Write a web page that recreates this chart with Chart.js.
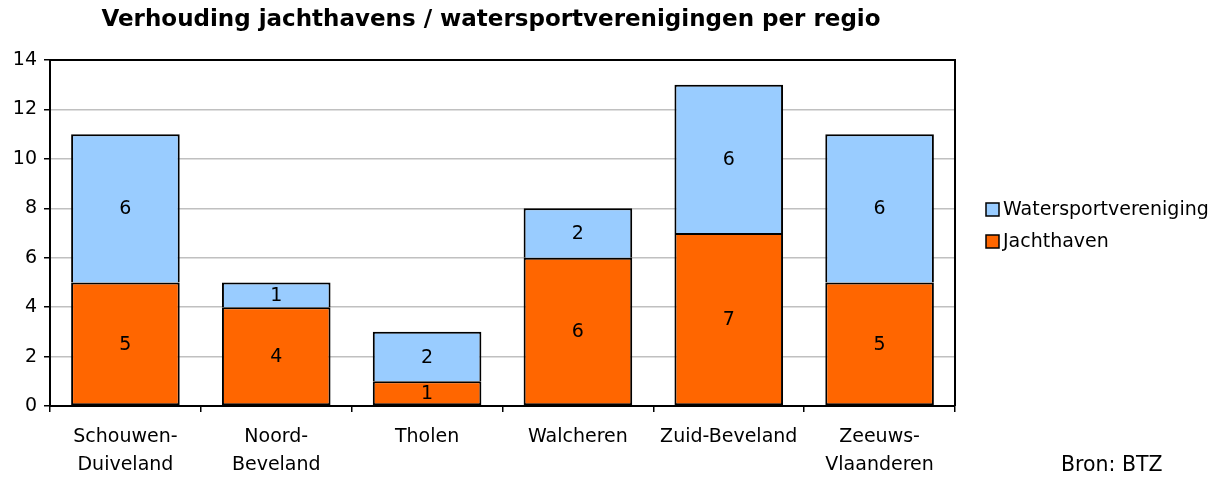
<!DOCTYPE html>
<html>
<head>
<meta charset="utf-8">
<script src="https://cdn.jsdelivr.net/npm/chart.js@4/dist/chart.umd.min.js"></script>
<style>
  html, body { margin: 0; padding: 0; background: #fff; }
  #wrap { width: 1223px; height: 477px; }
</style>
</head>
<body>
<div id="wrap"><canvas id="chart" width="1223" height="477"></canvas></div>
<script>
/* --------------- Data --------------------- */
const regions = [
    ["Schouwen-", "Duiveland"],
    ["Noord-", "Beveland"],
    "Tholen",
    "Walcheren",
    "Zuid-Beveland",
    ["Zeeuws-", "Vlaanderen"],
];
const jachthaven = [5, 4, 1, 6, 7, 5];
const watersport = [6, 1, 2, 2, 6, 6];
const yTicks = [0, 2, 4, 6, 8, 10, 12, 14];

const titleText = "Verhouding jachthavens / watersportverenigingen per regio";
const sourceText = "Bron: BTZ";
const font = "'DejaVu Sans', Tahoma, Verdana, sans-serif";

/* --------------- Colors --------------------- */
const orange = "#ff6600";
const lightBlue = "#99ccff";

/* --------------- Extra drawing: title, frame, labels, legend, source --------------------- */
const extras = {
    id: "extras",
    beforeDatasetsDraw(chart) {
        const { ctx, chartArea: a } = chart;
        ctx.save();
        ctx.strokeStyle = "#000";
        ctx.lineWidth = 2;
        ctx.beginPath();
        ctx.moveTo(a.left, a.top);
        ctx.lineTo(a.right, a.top);
        ctx.lineTo(a.right, a.bottom);
        ctx.stroke();
        ctx.restore();
    },
    afterDatasetsDraw(chart) {
        const { ctx } = chart;
        ctx.save();
        ctx.fillStyle = "#000";
        ctx.font = "19px " + font;
        ctx.textAlign = "center";
        ctx.textBaseline = "middle";
        chart.data.datasets.forEach((ds, i) => {
            chart.getDatasetMeta(i).data.forEach((bar, j) => {
                const y = (bar.y + bar.base) / 2;
                ctx.fillText(String(ds.data[j]), bar.x, y + 1);
            });
        });
        ctx.restore();
    },
    afterDraw(chart) {
        const { ctx } = chart;
        ctx.save();
        ctx.fillStyle = "#000";
        ctx.textBaseline = "middle";

        ctx.font = "bold 23px " + font;
        ctx.textAlign = "center";
        ctx.fillText(titleText, 491, 20);

        // legend
        ctx.font = "19px " + font;
        ctx.textAlign = "left";
        const items = [
            { label: "Watersportvereniging", color: lightBlue, y: 210 },
            { label: "Jachthaven", color: orange, y: 242 },
        ];
        items.forEach((it) => {
            ctx.fillStyle = it.color;
            ctx.fillRect(986, it.y - 7, 13, 13);
            ctx.strokeStyle = "#000";
            ctx.lineWidth = 1.5;
            ctx.strokeRect(986, it.y - 7, 13, 13);
            ctx.fillStyle = "#000";
            ctx.fillText(it.label, 1003, it.y);
        });

        ctx.font = "20.5px " + font;
        ctx.fillText(sourceText, 1061, 466);
        ctx.restore();
    },
};

/* --------------- Chart --------------------- */
new Chart(document.getElementById("chart"), {
    type: "bar",
    plugins: [extras],
    data: {
        labels: regions,
        datasets: [
            {
                label: "Jachthaven",
                data: jachthaven,
                backgroundColor: orange,
                borderColor: "#000",
                borderWidth: 2,
                borderSkipped: false,
            },
            {
                label: "Watersportvereniging",
                data: watersport,
                backgroundColor: lightBlue,
                borderColor: "#000",
                borderWidth: 2,
                borderSkipped: "bottom",
            },
        ],
    },
    options: {
        responsive: false,
        animation: false,
        layout: { padding: { top: 60, right: 268, left: 0, bottom: 0 } },
        plugins: {
            legend: { display: false },
            title: { display: false },
            tooltip: { enabled: false },
        },
        scales: {
            x: {
                stacked: true,
                categoryPercentage: 1,
                barPercentage: 0.665,
                grid: {
                    offset: true,
                    drawOnChartArea: false,
                    drawTicks: true,
                    tickLength: 6,
                    color: "#000",
                    lineWidth: 1.5,
                },
                border: { color: "#000", width: 2 },
                ticks: {
                    color: "#000",
                    padding: 11,
                    maxRotation: 0,
                    font: { family: font, size: 19, lineHeight: "28px" },
                },
                afterFit(scale) { scale.height = 71; },
            },
            y: {
                stacked: true,
                min: 0,
                max: 14,
                afterBuildTicks(scale) { scale.ticks = yTicks.map((v) => ({ value: v })); },
                grid: {
                    color: "#c0c0c0",
                    lineWidth: 1.5,
                    tickColor: "#000",
                    tickLength: 6,
                },
                border: { color: "#000", width: 2 },
                ticks: {
                    color: "#000",
                    padding: 7,
                    font: { family: font, size: 19 },
                },
                afterFit(scale) { scale.width = 50; },
            },
        },
    },
});
</script>
</body>
</html>
